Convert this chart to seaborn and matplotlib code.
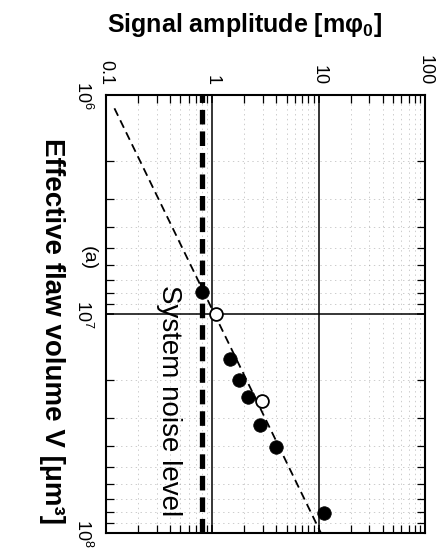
# Signal amplitude vs effective flaw volume (figure drawn rotated, as in the scan)
import matplotlib
matplotlib.use('Agg')
import matplotlib.pyplot as plt
import seaborn as sns
from matplotlib.ticker import NullFormatter

# ---- values ----
filled_volume = [7.96e6, 1.6e7, 2.0e7, 2.39e7, 3.2e7, 4.04e7, 8.1e7]
filled_amp = [0.80, 1.47, 1.79, 2.18, 2.81, 3.94, 11.2]
open_volume = [1.0e7, 2.5e7]
open_amp = [1.09, 2.91]
fit_volume = [1.15e6, 1e8]
fit_amp = [0.12, 10.5]
noise_level = 0.8

amp_ticks = [0.1, 1, 10, 100]
amp_labels = ['0.1', '1', '10', '100']
vol_ticks = [1e6, 1e7, 1e8]
vol_labels = [r'$10^{6}$', r'$10^{7}$', r'$10^{8}$']

# ---- style ----
sns.set_style('ticks')
plt.rcParams['font.family'] = ['Liberation Sans', 'DejaVu Sans']
plt.rcParams['text.color'] = 'black'
plt.rcParams['axes.labelcolor'] = 'black'
plt.rcParams['mathtext.fontset'] = 'custom'
plt.rcParams['mathtext.rm'] = 'Liberation Sans'
plt.rcParams['mathtext.bf'] = 'Liberation Sans:bold'
plt.rcParams['mathtext.it'] = 'Liberation Sans:italic'
plt.rcParams['lines.scale_dashes'] = False

fig = plt.figure(figsize=(4.45, 5.48), dpi=100)
ax = fig.add_axes([106 / 445, 15 / 548, 319 / 445, 438 / 548])

ax.set_xscale('log')
ax.set_yscale('log')
ax.set_xlim(0.1, 100)
ax.set_ylim(1e8, 1e6)
ax.set_axisbelow(True)
ax.grid(which='major', color='black', lw=1.1, ls='-')
ax.grid(which='minor', color='0.6', lw=0.7, ls=(0, (1, 2.5)), alpha=0.5)

# system noise level and V-proportional trend
ax.axvline(noise_level, color='black', lw=3.8, dashes=(10.5, 5), zorder=3)
sns.lineplot(x=fit_amp, y=fit_volume, color='black', lw=1.3,
             dashes=False, ax=ax, zorder=3, sort=False)
ax.lines[-1].set_dashes((6, 3.6))

sns.scatterplot(x=filled_amp, y=filled_volume, color='black', s=95,
                edgecolor='black', linewidth=0.5, ax=ax, zorder=4)
sns.scatterplot(x=open_amp, y=open_volume, color='white', s=85,
                edgecolor='black', linewidth=1.3, ax=ax, zorder=4)

ax.text(0.39, 2.48e7, 'System noise level', rotation=-90,
        ha='center', va='center', fontsize=20)

# ticks on all sides, pointing in
ax.set_xticks(amp_ticks, amp_labels, rotation=-90)
ax.set_yticks(vol_ticks, vol_labels, rotation=-90)
ax.xaxis.set_minor_formatter(NullFormatter())
ax.yaxis.set_minor_formatter(NullFormatter())
ax.tick_params(which='both', direction='in', top=True, bottom=True,
               left=True, right=True, labeltop=True, labelbottom=False,
               labelleft=True, colors='black')
ax.tick_params(which='minor', length=6, width=0.9)
ax.tick_params(which='major', length=6, width=1.1, pad=7, labelsize=13)
ax.tick_params(axis='y', which='major', pad=9)
for lbl in ax.get_yticklabels():
    lbl.set_va('center')
for sp in ax.spines.values():
    sp.set_linewidth(1.5)
    sp.set_color('black')

# axis titles placed as in the rotated scan
fig.text(0.549, 1 - 25 / 548, r'Signal amplitude [m$\mathbf{\varphi_0}$]',
         ha='center', va='center', fontsize=18, fontweight='bold')
fig.text(52 / 445, 1 - 331 / 548, 'Effective flaw volume V [μm³]',
         rotation=-90, ha='center', va='center', fontsize=20,
         fontweight='bold')
fig.text(88 / 445, 1 - 258 / 548, '(a)', rotation=-90,
         ha='center', va='center', fontsize=14)

fig.savefig('out.png', dpi=100)
